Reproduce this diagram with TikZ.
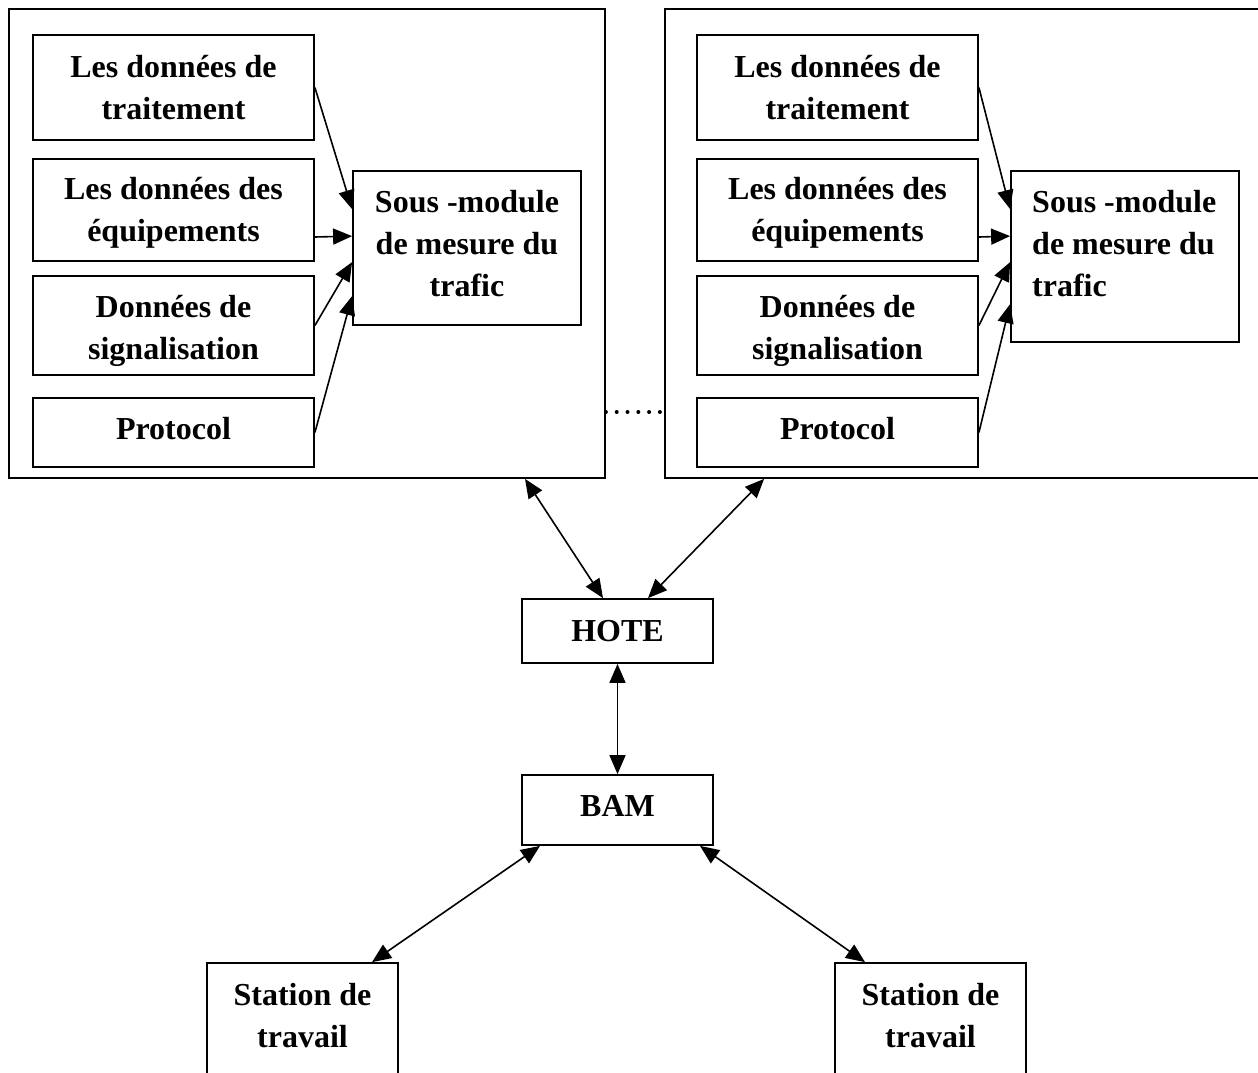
\documentclass[tikz,border=0pt]{standalone}
\usepackage{fontspec}
\setmainfont{Liberation Serif}
\usetikzlibrary{arrows.meta}
\begin{document}
\begin{tikzpicture}[x=1pt,y=-1pt,
  box/.style={draw, line width=1.8pt, rectangle, inner sep=0pt, align=center,
    font=\fontsize{32}{42}\selectfont\bfseries},
  txt/.style={inner sep=0pt, font=\fontsize{32}{42}\selectfont\bfseries},
  head/.style={Triangle[length=19pt,width=16pt]},
  tip/.style={line width=1.6pt, -{Triangle[length=19pt,width=16pt]}},
  both/.style={line width=1.6pt, {Triangle[length=19pt,width=16pt]}-{Triangle[length=19pt,width=16pt]}}
]
\useasboundingbox (0,0) rectangle (1258,1072);

% ---- left module group ----
\node[box, minimum width=596pt, minimum height=469pt] (outL) at (307,243.5) {};
\node[box, minimum width=281pt, minimum height=105pt] (aL) at (173.5,87.5) {Les données de\\traitement};
\node[box, minimum width=281pt, minimum height=102pt] (bL) at (173.5,210) {};
\node[txt, align=center] (bLt) at (173.5,213) {Les données des\\équipements};
\node[box, minimum width=281pt, minimum height=99pt]  (cL) at (173.5,325.5) {};
\node[txt, align=center] (cLt) at (173.5,331) {Données de\\signalisation};
\node[box, minimum width=281pt, minimum height=69pt]  (dL) at (173.5,432.5) {};
\node[txt] (dLt) at (173.5,428.5) {Protocol};
\node[box, minimum width=228pt, minimum height=154pt] (smL) at (467,248) {};
\node[txt, align=center] (smLt) at (467,244) {Sous -module\\de mesure du\\trafic};

\draw[tip] (aL.east) -- ([yshift=-39pt]smL.north west);
\draw[tip] ([yshift=-27pt]bL.east) -- ([yshift=-66pt]smL.north west);
\draw[tip] (cL.east) -- ([yshift=-92pt]smL.north west);
\draw[tip] (dL.east) -- ([yshift=-126pt]smL.north west);

% ---- right module group ----
\node[box, minimum width=605pt, minimum height=469pt] (outR) at (967.5,243.5) {};
\node[box, minimum width=281pt, minimum height=105pt] (aR) at (837.5,87.5) {Les données de\\traitement};
\node[box, minimum width=281pt, minimum height=102pt] (bR) at (837.5,210) {};
\node[txt, align=center] (bRt) at (837.5,213) {Les données des\\équipements};
\node[box, minimum width=281pt, minimum height=99pt]  (cR) at (837.5,325.5) {};
\node[txt, align=center] (cRt) at (837.5,331) {Données de\\signalisation};
\node[box, minimum width=281pt, minimum height=69pt]  (dR) at (837.5,432.5) {};
\node[txt] (dRt) at (837.5,428.5) {Protocol};
\node[box, minimum width=228pt, minimum height=171pt] (smR) at (1125,256.5) {};
\node[txt, anchor=west, align=left] (smRt) at (1032,244) {Sous -module\\de mesure du\\trafic};

\draw[tip] (aR.east) -- ([yshift=-39pt]smR.north west);
\draw[tip] ([yshift=-27pt]bR.east) -- ([yshift=-66pt]smR.north west);
\draw[tip] (cR.east) -- ([yshift=-92pt]smR.north west);
\draw[tip] (dR.east) -- ([yshift=-134pt]smR.north west);

% dotted link between the two groups
\coordinate (dotY) at (0,412);
\draw[line width=4pt, line cap=round, dash pattern=on 0pt off 10.8pt]
  (outL.east |- dotY) -- (outR.west |- dotY);

% ---- host, BAM and workstations ----
\node[box, minimum width=191pt, minimum height=64pt] (hote) at (617.5,631) {HOTE};
\node[box, minimum width=191pt, minimum height=70pt] (bam) at (617.5,810) {};
\node[txt] (bamt) at (617.5,806) {BAM};

\node[box, minimum width=191pt, minimum height=137pt] (stL) at (302.5,1031.5) {};
\node[txt, align=center] (stLt) at (302.5,1015.5) {Station de\\travail};
\node[box, minimum width=191pt, minimum height=137pt] (stR) at (930.5,1031.5) {};
\node[txt, align=center] (stRt) at (930.5,1015.5) {Station de\\travail};

\draw[both] ([xshift=218pt]outL.south) -- ([xshift=-14.5pt]hote.north);
\draw[both] ([xshift=100pt]outR.south west) -- ([xshift=30.5pt]hote.north);
\draw[both] (hote.south) -- (bam.north);
\draw[both] ([xshift=-77.5pt]bam.south) -- ([xshift=69.5pt]stL.north);
\draw[both] ([xshift=82.5pt]bam.south) -- ([xshift=-65.5pt]stR.north);
\end{tikzpicture}
\end{document}
